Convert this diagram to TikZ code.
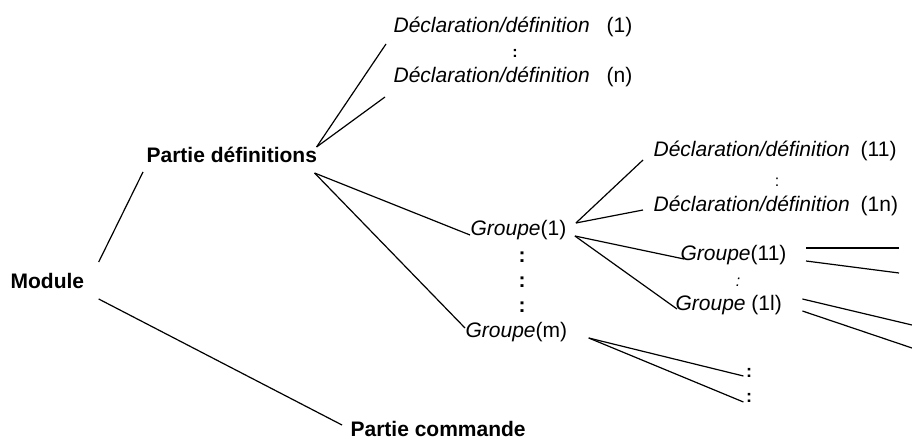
\documentclass[tikz,border=0pt]{standalone}
\usepackage{fontspec}
\setmainfont{Liberation Sans}
\usepackage{tikz}

\begin{document}
\begin{tikzpicture}[x=1pt,y=1pt,line width=1.2pt,
  every node/.style={inner sep=0pt,font=\fontsize{21}{25}\selectfont},
  lbl/.style={anchor=base west},
  hd/.style={anchor=base west,font=\fontsize{21}{25}\selectfont\bfseries},
  dots/.style={anchor=base,font=\fontsize{21}{25}\selectfont\bfseries},
  sdots/.style={anchor=base,font=\fontsize{16}{19}\selectfont}]
 \useasboundingbox (0,0) rectangle (912,441);

 \node[hd] (mod) at (10,152) {Module};
 \node[hd] (pdef) at (146,278) {Partie définitions};
 \node[hd] (pcom) at (350,4) {Partie commande};

 \node[lbl] (d1) at (393,408) {{\itshape Déclaration/définition}\hspace{17pt}(1)};
 \node[dots,font=\fontsize{16}{19}\selectfont\bfseries] (c1) at (515,383) {:};
 \node[lbl] (dn) at (393,358) {{\itshape Déclaration/définition}\hspace{17pt}(n)};

 \node[lbl] (g1) at (470,205) {{\itshape Groupe}(1)};
 \node[dots] (ca) at (522,178) {:};
 \node[dots] (cb) at (522,153) {:};
 \node[dots] (cc) at (522,128) {:};
 \node[lbl] (gm) at (465,103) {{\itshape Groupe}(m)};

 \node[lbl] (d11) at (653,284) {{\itshape Déclaration/définition}\hspace{11pt}(11)};
 \node[sdots] (c2) at (777,254) {:};
 \node[lbl] (d1n) at (653,229) {{\itshape Déclaration/définition}\hspace{11pt}(1n)};

 \node[lbl] (g11) at (680,180) {{\itshape Groupe}(11)};
 \node[sdots,font=\fontsize{16}{19}\selectfont\itshape] (c3) at (738,154) {:};
 \node[lbl] (g1l) at (675,130) {{\itshape Groupe} (1l)};

 \node[dots,font=\fontsize{18}{21}\selectfont\bfseries] (cm1) at (749,63) {:};
 \node[dots,font=\fontsize{18}{21}\selectfont\bfseries] (cm2) at (749,38) {:};

 \coordinate (e1) at (899,193);
 \coordinate (e2) at (899,168);
 \coordinate (e3) at (912,116);
 \coordinate (e4) at (912,93);

 \draw ([shift={(14,27)}]mod.base east) -- ([shift={(-3,-9)}]pdef.base west);
 \draw ([shift={(14,-10)}]mod.base east) -- ([shift={(-8,12)}]pcom.base west);

 \draw ([shift={(-1,16)}]pdef.base east) -- ([shift={(-7,-11)}]d1.base west);
 \draw ([shift={(-1,16)}]pdef.base east) -- ([shift={(-8,-14)}]dn.base west);
 \draw ([shift={(-3,-10)}]pdef.base east) -- ([shift={(0,1)}]g1.base west);
 \draw ([shift={(-3,-10)}]pdef.base east) -- ([shift={(0,10)}]gm.base west);

 \draw ([shift={(9,13)}]g1.base east) -- ([shift={(-10,-3)}]d11.base west);
 \draw ([shift={(9,13)}]g1.base east) -- ([shift={(-10,2)}]d1n.base west);
 \draw ([shift={(8,0)}]g1.base east) -- ([shift={(4,2)}]g11.base west);
 \draw ([shift={(8,0)}]g1.base east) -- ([shift={(2,2)}]g1l.base west);

 \draw ([shift={(19,13)}]g11.base east) -- (e1);
 \draw ([shift={(19,0)}]g11.base east) -- (e2);
 \draw ([shift={(20,12)}]g1l.base east) -- (e3);
 \draw ([shift={(20,0)}]g1l.base east) -- (e4);

 \draw ([shift={(21,0)}]gm.base east) -- ([shift={(-2,2)}]cm1.base west);
 \draw ([shift={(21,0)}]gm.base east) -- ([shift={(-2,1)}]cm2.base west);
\end{tikzpicture}
\end{document}
